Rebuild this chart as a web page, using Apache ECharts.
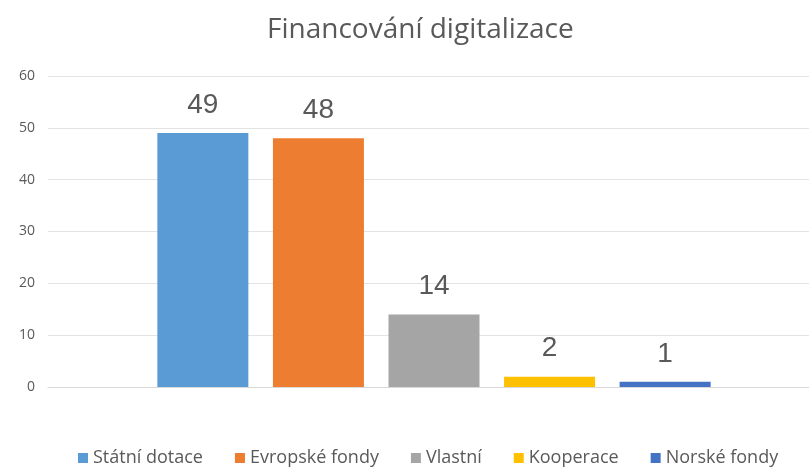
<!DOCTYPE html>
<html lang="cs">
<head>
    <meta charset="UTF-8">
    <title>Financování digitalizace</title>
    <script src="https://cdn.jsdelivr.net/npm/echarts@6/dist/echarts.min.js"></script>
    <style type="text/css">
        *{margin: 0;padding: 0;border: none}
        html,body{width: 100%;height: 100%;overflow: hidden;background: #fff}
        #main{width: 809px;height: 468px}
    </style>
</head>
<body>
<div id="main"></div>
<script type="text/javascript">
    // data
    var categories = [''];
    var seriesNames = ['Státní dotace', 'Evropské fondy', 'Vlastní', 'Kooperace', 'Norské fondy'];
    var seriesValues = [49, 48, 14, 2, 1];
    var yTicks = [0, 10, 20, 30, 40, 50, 60];
    var colors = ['#5B9BD5', '#ED7D31', '#A5A5A5', '#FFC000', '#4472C4'];

    var myChart = echarts.init(document.getElementById('main'));

    var series = [];
    for (var i = 0; i < seriesNames.length; i++) {
        series.push({
            name: seriesNames[i],
            type: 'bar',
            data: [seriesValues[i]],
            barWidth: 91,
            barGap: '27%',
            itemStyle: { color: colors[i] },
            label: {
                show: true,
                position: 'top',
                distance: 14,
                color: '#595959',
                fontSize: 28,
                fontFamily: 'Liberation Sans, Arial, sans-serif'
            }
        });
    }

    var option = {
        backgroundColor: '#fff',
        color: colors,
        title: {
            text: 'Financování digitalizace',
            left: 262,
            top: 11,
            textStyle: {
                color: '#595959',
                fontSize: 28,
                fontWeight: 'normal',
                fontFamily: 'Open Sans, sans-serif'
            }
        },
        legend: {
            top: 444,
            left: 73,
            itemWidth: 10,
            itemHeight: 10,
            itemGap: 32,
            icon: 'rect',
            textStyle: {
                color: '#595959',
                fontSize: 18,
                fontFamily: 'Open Sans, sans-serif'
            },
            data: seriesNames
        },
        grid: {
            left: 48,
            right: -11,
            top: 76,
            bottom: 81,
            outerBoundsMode: 'none'
        },
        xAxis: {
            type: 'category',
            data: categories,
            axisLine: { lineStyle: { color: '#D9D9D9' } },
            axisTick: { show: false },
            axisLabel: { show: false }
        },
        yAxis: {
            type: 'value',
            min: yTicks[0],
            max: yTicks[yTicks.length - 1],
            interval: 10,
            axisLine: { show: false },
            axisTick: { show: false },
            axisLabel: {
                color: '#595959',
                fontSize: 14,
                margin: 13,
                fontFamily: 'Open Sans, sans-serif'
            },
            splitLine: { lineStyle: { color: '#E3E3E3' } }
        },
        series: series
    };
    myChart.setOption(option);
</script>
</body>
</html>
